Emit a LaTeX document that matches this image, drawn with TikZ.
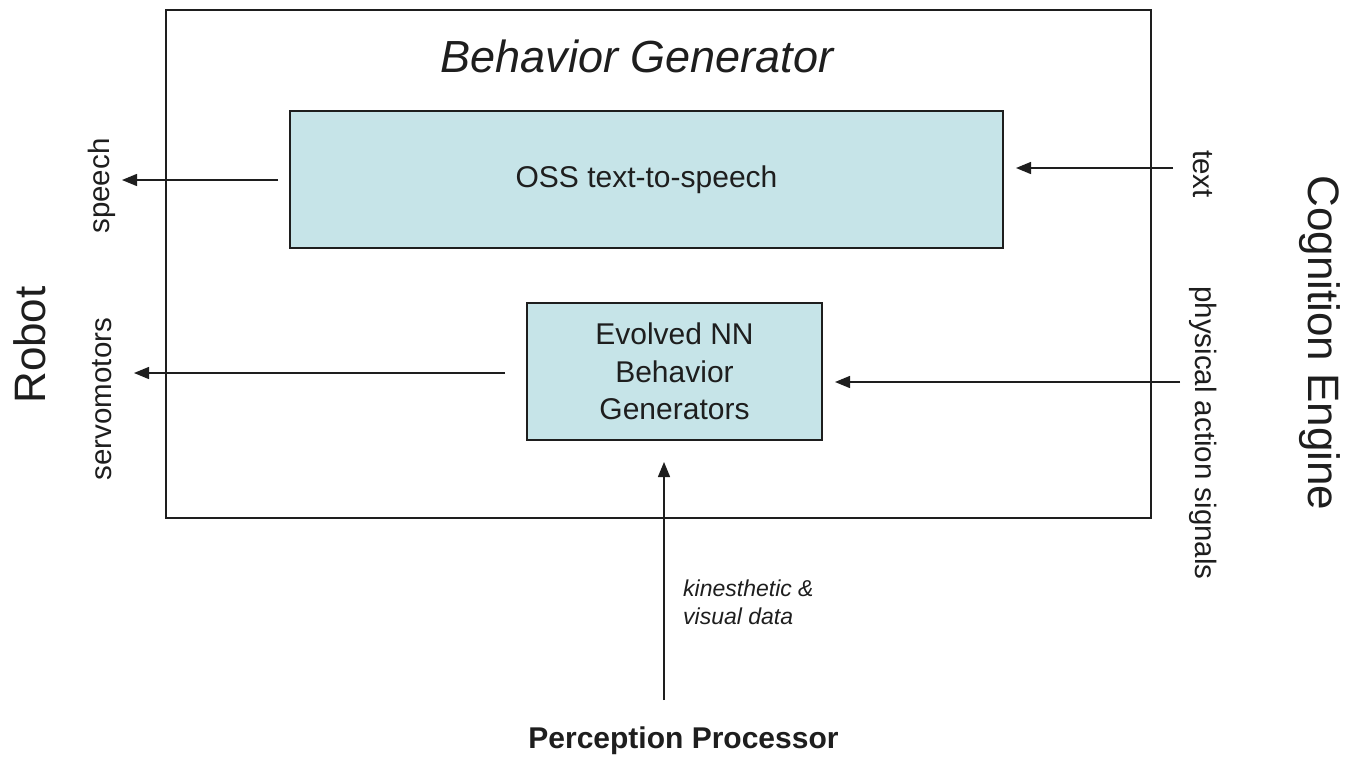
\documentclass[tikz,border=0pt]{standalone}
\usepackage{fontspec}
\setmainfont{Liberation Sans}
\usetikzlibrary{arrows.meta}
\definecolor{boxfill}{HTML}{C6E4E8}
\definecolor{ink}{HTML}{1E1E1E}
\tikzset{
  block/.style={draw=ink, line width=1.6pt, fill=boxfill, inner sep=0pt, align=center,
    text=ink, font=\fontsize{30}{37.5}\selectfont},
  frame/.style={draw=ink, line width=1.4pt},
  sig/.style={draw=ink, line width=1.4pt, -{Triangle[length=15pt,width=12pt]}},
  side/.style={text=ink, font=\fontsize{44}{50}\selectfont, inner sep=0pt},
  port/.style={text=ink, font=\fontsize{29.5}{34}\selectfont, inner sep=0pt},
}
\begin{document}
\begin{tikzpicture}[x=1pt,y=-1pt]
\useasboundingbox (0,0) rectangle (1356,756);
\fill[white] (0,0) rectangle (1356,756);

% enclosing behaviour generator
\draw[frame] (166,10) rectangle (1151,518);
\node[text=ink, font=\fontsize{45}{50}\selectfont\itshape, inner sep=0pt] (title) at (637,56) {Behavior Generator};

% inner components
\node[block, minimum width=713pt, minimum height=137pt] (tts) at (646.5,179.5) {OSS text-to-speech};
\node[block, minimum width=295pt, minimum height=137pt] (nn) at (674.5,371.5) {Evolved NN\\ Behavior\\Generators};

% neighbouring modules
\node[side, rotate=90] (robot) at (30,345) {Robot};
\node[side, rotate=-90] (cog) at (1320,343) {Cognition Engine};
\node[text=ink, font=\fontsize{30}{36}\selectfont\bfseries, inner sep=0pt] (pp) at (683.5,741) {Perception Processor};

% signal labels
\node[port, rotate=90] (speech) at (102,186) {speech};
\node[port, rotate=90] (servo) at (102,399) {servomotors};
\node[port, rotate=-90] (txt) at (1203,174) {text};
\node[port, rotate=-90] (phys) at (1203,433) {physical action signals};
\node[text=ink, font=\fontsize{23}{28}\selectfont\itshape, align=left, inner sep=0pt, anchor=north west] (kin) at (683,580) {kinesthetic \&\\visual data};

% signal flow endpoints
\coordinate (ttsOut) at (278,180);
\coordinate (speechIn) at (122,180);
\coordinate (txtOut) at (1173,168);
\coordinate (ttsIn) at (1016,168);
\coordinate (nnOut) at (505,373);
\coordinate (servoIn) at (134,373);
\coordinate (physOut) at (1180,382);
\coordinate (nnIn) at (835,382);
\coordinate (ppOut) at (664,700);
\coordinate (nnBelow) at (664,462);

\draw[sig] (ttsOut) -- (speechIn);
\draw[sig] (txtOut) -- (ttsIn);
\draw[sig] (nnOut) -- (servoIn);
\draw[sig] (physOut) -- (nnIn);
\draw[sig] (ppOut) -- (nnBelow);
\end{tikzpicture}
\end{document}
